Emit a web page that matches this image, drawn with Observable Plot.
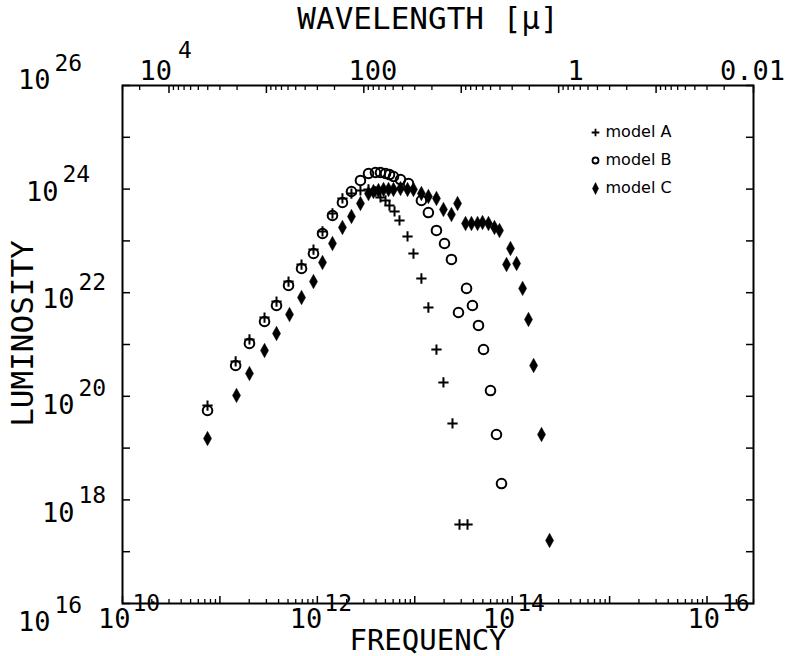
<!DOCTYPE html>
<html><head><meta charset="utf-8">
<script src="https://cdn.jsdelivr.net/npm/d3@7"></script>
<script src="https://cdn.jsdelivr.net/npm/@observablehq/plot@0.6"></script>
<style>body{margin:0;background:#fff}</style>
</head><body><div id="chart"></div>
<script>
// ---- data (frequency [Hz], luminosity) ----
const freqA = [7.46e10,1.45e11,2.01e11,2.87e11,3.81e11,5.06e11,6.88e11,9.13e11,1.13e12,1.43e12,1.81e12,2.24e12,2.77e12,3.35e12,3.95e12,4.45e12,5.01e12,5.50e12,6.20e12,6.97e12,8.43e12,9.70e12,1.17e13,1.38e13,1.67e13,1.97e13,2.44e13,2.88e13,3.48e13];
const lumA  = [6.64e19,4.70e20,1.25e21,3.32e21,6.76e21,1.64e22,3.50e22,6.82e22,1.52e23,3.38e23,6.59e23,8.22e23,9.40e23,9.83e23,8.99e23,6.89e23,6.03e23,4.82e23,3.70e23,2.48e23,1.22e23,5.71e22,1.88e22,5.18e21,8.00e20,1.85e20,2.99e19,3.35e17,3.35e17];
const freqB = [7.46e10,1.45e11,2.01e11,2.87e11,3.81e11,5.06e11,6.88e11,9.13e11,1.13e12,1.43e12,1.81e12,2.24e12,2.77e12,3.35e12,3.95e12,4.45e12,5.01e12,5.50e12,6.05e12,7.14e12,8.63e12,1.17e13,1.38e13,1.67e13,2.02e13,2.38e13,2.81e13,3.40e13,3.91e13,4.51e13,5.08e13,5.99e13,6.90e13,7.77e13];
const lumB  = [5.32e19,3.93e20,1.05e21,2.78e21,5.66e21,1.38e22,2.93e22,5.71e22,1.39e23,3.09e23,5.51e23,8.99e23,1.47e24,2.00e24,2.09e24,2.09e24,2.00e24,1.91e24,1.75e24,1.53e24,1.28e24,6.03e23,3.53e23,1.59e23,8.91e22,4.38e22,4.15e21,1.21e22,5.66e21,2.33e21,8.00e20,1.29e20,1.83e19,2.07e18];
const freqC = [7.46e10,1.48e11,2.01e11,2.87e11,3.81e11,5.18e11,6.88e11,9.13e11,1.13e12,1.43e12,1.81e12,2.24e12,2.77e12,3.35e12,3.77e12,4.24e12,4.78e12,5.38e12,6.05e12,7.14e12,8.43e12,9.70e12,1.17e13,1.38e13,1.67e13,1.97e13,2.38e13,2.75e13,3.32e13,3.82e13,4.41e13,4.96e13,5.71e13,6.58e13,7.41e13,8.75e13,9.61e13,1.11e14,1.28e14,1.47e14,1.66e14,2.00e14,2.42e14];
const lumC  = [1.53e19,1.04e20,2.75e20,7.66e20,1.63e21,3.79e21,8.07e21,1.64e22,3.83e22,8.91e22,1.82e23,2.96e23,5.27e23,8.22e23,8.99e23,9.40e23,9.83e23,9.83e23,9.83e23,1.03e24,9.83e23,9.83e23,8.22e23,7.19e23,6.59e23,4.04e23,3.23e23,5.27e23,2.17e23,2.17e23,2.17e23,2.26e23,2.17e23,1.82e23,1.59e23,3.50e22,7.13e22,3.66e22,1.21e22,3.04e21,3.93e20,1.83e19,1.65e17];
const modelNames = ["model A", "model B", "model C"];

// ---- axis ticks / labels ----
const xDecades = [1e10,1e11,1e12,1e13,1e14,1e15,1e16];
const minorMult = [2,3,4,5,6,7,8,9];
const xLabelTicks = [1e10,1e12,1e14,1e16];
const xLabelExps = ["10","12","14","16"];
const yDecades = [1e16,1e17,1e18,1e19,1e20,1e21,1e22,1e23,1e24,1e25,1e26];
const yLabelTicks = [1e16,1e18,1e20,1e22,1e24,1e26];
const yLabelExps = ["16","18","20","22","24","26"];
const lambdaDecades = [1e5,1e4,1e3,100,10,1,0.1,0.01];   // microns
const lambdaLabelTicks = [1e4, 100, 1, 0.01];
const lambdaLabelText = [["10","4"], ["100",""], ["1",""], ["0.01",""]];
const C_MICRON = 3e14; // speed of light, micron/s

// label placement (styling only)
const xLabelShift = [7, 4, 2, 12];
const yLabelShiftY = [19, 13, 9, 7, 3, -5];
const yLabelShiftX = [0, 24, 24, 24, 8, 0];
const lamLabelShift = [3, 9, 17, -1];

const X0 = 1e10, X1 = 3e16;
const inX = v => v >= X0 * 0.999 && v <= X1 * 1.001;
const xMinor = xDecades.flatMap(d => minorMult.map(m => m * d)).filter(inX);
const lamMajorNu = lambdaDecades.map(l => C_MICRON / l).filter(inX);
const lamMinorNu = lambdaDecades.flatMap(l => minorMult.map(m => C_MICRON / (m * l))).filter(inX);

const rowsA = freqA.map((f, i) => ({nu: f, L: lumA[i]}));
const rowsB = freqB.map((f, i) => ({nu: f, L: lumB[i]}));
const rowsC = freqC.map((f, i) => ({nu: f, L: lumC[i]}));

const tallDiamond = (k) => ({
  draw(context, size) {
    const r = Math.sqrt(size / Math.PI);
    context.moveTo(0, -k * r);
    context.lineTo(r, 0);
    context.lineTo(0, k * r);
    context.lineTo(-r, 0);
    context.closePath();
  }
});

const MONO = "DejaVu Sans Mono, monospace";
const SANS = "DejaVu Sans, sans-serif";
const none = () => "";
const BASE = 27, EXP = 23, TITLE = 31;
const txt = {fill: "black", fontFamily: MONO, lineAnchor: "middle"};

const labelMarks = [];
xLabelTicks.forEach((v, i) => {
  labelMarks.push(Plot.text([v], {...txt, x: d => d, text: () => "10", frameAnchor: "bottom", dy: 16, dx: xLabelShift[i] + 1, textAnchor: "end", fontSize: BASE}));
  labelMarks.push(Plot.text([v], {...txt, x: d => d, text: () => xLabelExps[i], frameAnchor: "bottom", dy: 0, dx: xLabelShift[i] + 3, textAnchor: "start", fontSize: EXP}));
});
yLabelTicks.forEach((v, i) => {
  labelMarks.push(Plot.text([v], {...txt, y: d => d, text: () => "10", frameAnchor: "left", dx: -72 + yLabelShiftX[i], dy: yLabelShiftY[i], textAnchor: "end", fontSize: BASE}));
  labelMarks.push(Plot.text([v], {...txt, y: d => d, text: () => yLabelExps[i], frameAnchor: "left", dx: -68 + yLabelShiftX[i], dy: yLabelShiftY[i] - 17, textAnchor: "start", fontSize: EXP}));
});
lambdaLabelTicks.forEach((l, i) => {
  const [base, exp] = lambdaLabelText[i];
  if (exp) {
    labelMarks.push(Plot.text([l], {...txt, x: d => C_MICRON / d, text: () => base, frameAnchor: "top", dy: -14, dx: lamLabelShift[i], textAnchor: "end", fontSize: BASE}));
    labelMarks.push(Plot.text([l], {...txt, x: d => C_MICRON / d, text: () => exp, frameAnchor: "top", dy: -35, dx: lamLabelShift[i] + 6, textAnchor: "start", fontSize: EXP}));
  } else {
    labelMarks.push(Plot.text([l], {...txt, x: d => C_MICRON / d, text: () => base, frameAnchor: "top", dy: -14, dx: lamLabelShift[i], textAnchor: "middle", fontSize: BASE}));
  }
});

const chart = Plot.plot({
  width: 790, height: 656,
  marginLeft: 122, marginRight: 37, marginTop: 85, marginBottom: 53,
  x: {type: "log", domain: [X0, X1]},
  y: {type: "log", domain: [1e16, 1e26]},
  style: {background: "white", color: "black", overflow: "visible"},
  marks: [
    Plot.frame({stroke: "black", strokeWidth: 2}),
    Plot.axisX(xDecades, {anchor: "bottom", tickSize: -7, tickFormat: none, label: null, strokeWidth: 1.5}),
    Plot.axisX(xMinor, {anchor: "bottom", tickSize: -4, tickFormat: none, label: null, strokeWidth: 1.3}),
    Plot.axisX(lamMajorNu, {anchor: "top", tickSize: -7, tickFormat: none, label: null, strokeWidth: 1.5}),
    Plot.axisX(lamMinorNu, {anchor: "top", tickSize: -4, tickFormat: none, label: null, strokeWidth: 1.3}),
    Plot.axisY(yDecades, {anchor: "left", tickSize: -8, tickFormat: none, label: null, strokeWidth: 1.5}),
    Plot.axisY(yDecades, {anchor: "right", tickSize: -8, tickFormat: none, label: null, strokeWidth: 1.5}),

    ...labelMarks,

    // axis titles
    Plot.text(["FREQUENCY"], {...txt, frameAnchor: "bottom", textAnchor: "middle", dy: 37, dx: -10, fontSize: 29}),
    Plot.text(["WAVELENGTH [μ]"], {...txt, frameAnchor: "top", textAnchor: "middle", dy: -66, dx: -10, fontSize: TITLE}),
    Plot.text(["LUMINOSITY"], {...txt, frameAnchor: "left", textAnchor: "middle", dx: -99, dy: -11, rotate: -90, fontSize: TITLE}),

    // data
    Plot.dot(rowsB, {x: "nu", y: "L", symbol: "circle", r: 4.8, stroke: "black", strokeWidth: 2, fill: "none"}),
    Plot.dot(rowsA, {x: "nu", y: "L", symbol: "plus", r: 3.4, stroke: "black", strokeWidth: 2}),
    Plot.dot(rowsC, {x: "nu", y: "L", symbol: tallDiamond(1.8), r: 4, fill: "black", stroke: "black", strokeWidth: 0.5}),

    // legend
    Plot.dot([modelNames[0]], {frameAnchor: "top-right", dx: -158, dy: 47, symbol: "plus", r: 2.6, stroke: "black", strokeWidth: 1.8}),
    Plot.dot([modelNames[1]], {frameAnchor: "top-right", dx: -158, dy: 75, symbol: "circle", r: 3, stroke: "black", strokeWidth: 1.8, fill: "none"}),
    Plot.dot([modelNames[2]], {frameAnchor: "top-right", dx: -158, dy: 103, symbol: tallDiamond(2), r: 3, fill: "black", stroke: "black", strokeWidth: 0.5}),
    Plot.text([modelNames[0]], {frameAnchor: "top-right", lineAnchor: "middle", textAnchor: "start", dx: -148, dy: 46, fontSize: 16, fontFamily: SANS, fill: "black"}),
    Plot.text([modelNames[1]], {frameAnchor: "top-right", lineAnchor: "middle", textAnchor: "start", dx: -148, dy: 74, fontSize: 16, fontFamily: SANS, fill: "black"}),
    Plot.text([modelNames[2]], {frameAnchor: "top-right", lineAnchor: "middle", textAnchor: "start", dx: -148, dy: 102, fontSize: 16, fontFamily: SANS, fill: "black"}),
  ]
});
document.getElementById("chart").append(chart);
</script>
</body></html>
